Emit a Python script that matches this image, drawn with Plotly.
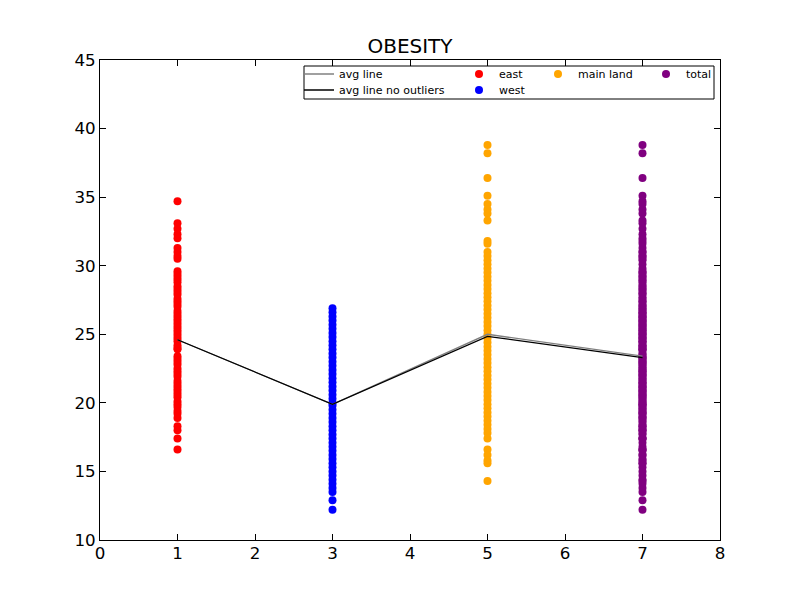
import plotly.graph_objects as go

# ---------------- data ----------------
title_text = "OBESITY"
group_names = ["east", "west", "main land", "total"]
group_x = [1, 3, 5, 7]

east = [34.7, 33.1, 32.7, 32.3, 32.0, 31.3, 31.0, 30.7, 30.5, 29.6, 29.4, 29.2,
        29.0, 28.8, 28.5, 28.3, 28.1, 27.9, 27.6, 27.4, 27.2, 27.0, 26.7, 26.5,
        26.3, 26.1, 25.9, 25.7, 25.5, 25.3, 25.1, 24.9, 24.7, 24.5, 24.2, 24.0,
        23.9, 23.4, 23.2, 23.0, 22.8, 22.5, 22.3, 22.1, 21.9, 21.6, 21.4, 21.2,
        21.0, 20.8, 20.6, 20.4, 20.1, 19.9, 19.7, 19.4, 19.2, 18.9, 18.3, 18.0,
        17.4, 16.6]

west = [26.9, 26.6, 26.3, 26.0, 25.7, 25.4, 25.1, 24.8, 24.5, 24.2, 23.9, 23.6,
        23.3, 23.0, 22.7, 22.4, 22.1, 21.8, 21.5, 21.2, 20.9, 20.6, 20.3, 20.0,
        19.8, 19.5, 19.2, 18.9, 18.6, 18.3, 18.0, 17.7, 17.4, 17.1, 16.8, 16.5,
        16.2, 15.9, 15.6, 15.3, 15.0, 14.7, 14.4, 14.1, 13.8, 13.5, 12.9, 12.2]

main_land = [38.8, 38.2, 36.4, 35.1, 34.5, 34.1, 33.8, 33.3, 31.8, 31.6, 31.0,
             30.7, 30.4, 30.1, 29.8, 29.5, 29.2, 28.9, 28.6, 28.3, 28.0, 27.7,
             27.4, 27.1, 26.8, 26.5, 26.2, 25.9, 25.6, 25.3, 25.0, 24.7, 24.4,
             24.1, 23.8, 23.5, 23.2, 22.9, 22.6, 22.3, 22.0, 21.7, 21.4, 21.1,
             20.8, 20.5, 20.2, 19.9, 19.6, 19.3, 19.0, 18.7, 18.4, 18.1, 17.8,
             17.4, 16.6, 16.2, 15.8, 15.6, 14.3]

total = east + west + main_land

avg_line = [24.6, 19.9, 25.0, 23.4]
avg_line_no_outliers = [24.6, 19.9, 24.85, 23.3]

x_ticks = [0, 1, 2, 3, 4, 5, 6, 7, 8]
y_ticks = [10, 15, 20, 25, 30, 35, 40, 45]

# ---------------- figure ----------------
FONT = "DejaVu Sans"
fig = go.Figure()

groups = [east, west, main_land, total]
colors = ["#ff0000", "#0000ff", "#ffa500", "#800080"]
legend_ids = ["legend3", "legend4", "legend5", "legend6"]
for name, xv, vals, col, lg in zip(group_names, group_x, groups, colors, legend_ids):
    fig.add_trace(go.Scatter(
        x=[xv] * len(vals), y=vals, mode="markers", name=name,
        marker=dict(color=col, size=8, line=dict(width=0)),
        legend=lg,
    ))

fig.add_trace(go.Scatter(x=group_x, y=avg_line, mode="lines", name="avg line",
                         line=dict(color="#808080", width=1.3), legend="legend"))
fig.add_trace(go.Scatter(x=group_x, y=avg_line_no_outliers, mode="lines",
                         name="avg line no outliers",
                         line=dict(color="#000000", width=1.3), legend="legend2"))

def px2x(p):
    return (p - 100) / 620.0

def py2y(p):
    return (540 - p) / 480.0

def legend_at(left_px, top_px):
    return dict(x=px2x(left_px), y=py2y(top_px), xanchor="left", yanchor="top",
                bgcolor="rgba(0,0,0,0)", borderwidth=0,
                font=dict(family=FONT, size=11, color="black"),
                orientation="v", itemclick=False)

fig.update_layout(
    width=800, height=600,
    margin=dict(l=100, r=80, t=60, b=60, autoexpand=False),
    paper_bgcolor="white", plot_bgcolor="white",
    font=dict(family=FONT, color="black"),
    title=dict(text=title_text, x=0.5, xref="paper", y=(600 - 46) / 600.0,
               yref="container", xanchor="center", yanchor="middle",
               font=dict(family=FONT, size=20, color="black")),
    showlegend=True,
    legend=legend_at(299, 59.5),
    legend2=legend_at(299, 75.5),
    legend3=legend_at(459, 59.5),
    legend4=legend_at(459, 75.5),
    legend5=legend_at(538, 59.5),
    legend6=legend_at(646, 59.5),
    shapes=[dict(type="rect", xref="paper", yref="paper",
                 x0=px2x(304), x1=px2x(714), y0=py2y(99), y1=py2y(66),
                 line=dict(color="black", width=1), fillcolor="white",
                 layer="above")],
)

axis_common = dict(showgrid=False, zeroline=False, showline=True,
                   linecolor="black", linewidth=1, mirror="ticks",
                   ticks="inside", ticklen=6, tickwidth=1, tickcolor="black",
                   tickfont=dict(family=FONT, size=16.7, color="black"))

fig.update_xaxes(range=[0, 8], tickvals=x_ticks, ticktext=[str(v) for v in x_ticks],
                 ticklabelstandoff=-2, **axis_common)
fig.update_yaxes(range=[10, 45], tickvals=y_ticks, ticktext=[str(v) for v in y_ticks],
                 **axis_common)

fig.write_html("out.html",
               config={"displayModeBar": False},
               post_script="document.body.style.margin='0';document.body.style.padding='0';")
